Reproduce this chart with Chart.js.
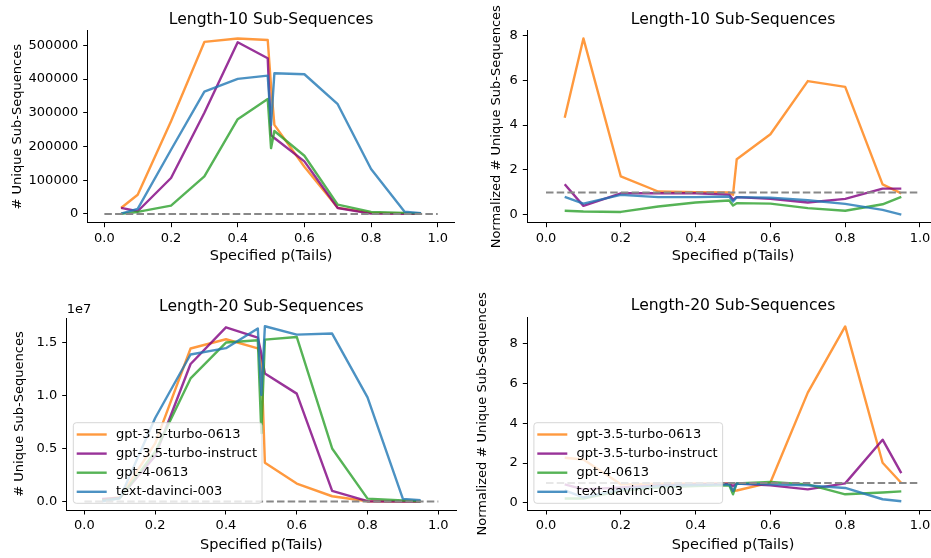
<!DOCTYPE html>
<html>
<head>
<meta charset="utf-8">
<script src="https://cdn.jsdelivr.net/npm/chart.js@4.4.0/dist/chart.umd.min.js"></script>
<style>
  html, body { margin: 0; padding: 0; background: #fff; overflow: hidden; }
  #fig { position: relative; width: 931px; height: 558px; overflow: hidden; }
  canvas { position: absolute; }
</style>
</head>
<body>
<div id="fig">
  <canvas id="c10count" width="465" height="279" style="left:0px;top:0px"></canvas>
  <canvas id="c10norm" width="480" height="279" style="left:465px;top:0px"></canvas>
  <canvas id="c20count" width="465" height="279" style="left:0px;top:279px"></canvas>
  <canvas id="c20norm" width="480" height="279" style="left:465px;top:279px"></canvas>
</div>
<script>
// specified p(Tails) values on the x axis
const pTails = [0.05, 0.1, 0.2, 0.3, 0.4, 0.49, 0.5, 0.51, 0.6, 0.7, 0.8, 0.9, 0.95];
const models = ['gpt-3.5-turbo-0613', 'gpt-3.5-turbo-instruct', 'gpt-4-0613', 'text-davinci-003'];

// length-10, unique counts
const count10Turbo = [17750, 57000, 275000, 510000, 520000, 515700, 380000, 264000, 140000, 18000, 3000, 1000, 500];
const count10Instruct = [17750, 7900, 106500, 300000, 509000, 461500, 234000, 225000, 155800, 17750, 1000, 300, 100];
const count10Gpt4 = [500, 5900, 24700, 111400, 281000, 341000, 195000, 246000, 172600, 27600, 5900, 3000, 1000];
const count10Davinci = [1000, 14800, 190300, 362900, 400400, 410000, 264000, 417000, 414200, 325400, 133100, 6900, 2000];

// length-10, normalized
const norm10Turbo = [4.33, 7.86, 1.71, 1.04, 1.01, 1.0, 0.89, 2.48, 3.59, 5.96, 5.70, 1.36, 0.96];
const norm10Instruct = [1.36, 0.40, 0.96, 0.96, 0.96, 0.90, 0.67, 0.79, 0.71, 0.55, 0.71, 1.17, 1.17];
const norm10Gpt4 = [0.18, 0.15, 0.13, 0.37, 0.55, 0.64, 0.42, 0.52, 0.50, 0.30, 0.18, 0.47, 0.80];
const norm10Davinci = [0.80, 0.50, 0.89, 0.79, 0.79, 0.82, 0.59, 0.79, 0.76, 0.65, 0.49, 0.22, 0.01];

// length-20, unique counts
const count20Turbo = [200000, 400000, 5500000, 14470000, 15340000, 14470000, 13500000, 3670000, 1700000, 500000, 30000, 10000, 5000];
const count20Instruct = [250000, 350000, 4300000, 13000000, 16470000, 15500000, 14000000, 12100000, 10200000, 1000000, 30000, 10000, 5000];
const count20Gpt4 = [100000, 300000, 4700000, 11640000, 15030000, 15250000, 6470000, 15310000, 15560000, 5020000, 280000, 100000, 30000];
const count20Davinci = [30000, 300000, 7900000, 13900000, 14500000, 16360000, 10070000, 16570000, 15780000, 15880000, 9850000, 250000, 130000];

// length-20, normalized
const norm20Turbo = [2.27, 2.18, 0.93, 0.97, 0.98, 0.98, 0.60, 0.62, 1.02, 5.55, 8.88, 2.02, 1.00];
const norm20Instruct = [0.93, 0.68, 0.77, 0.88, 0.93, 0.97, 0.85, 0.97, 0.88, 0.68, 0.98, 3.18, 1.50];
const norm20Gpt4 = [0.22, 0.22, 0.60, 0.77, 0.85, 0.88, 0.43, 0.98, 1.05, 0.93, 0.43, 0.52, 0.58];
const norm20Davinci = [0.63, 0.27, 0.68, 0.85, 0.90, 0.93, 0.60, 0.97, 0.93, 0.88, 0.75, 0.18, 0.08];

// tick labels
const xTicks = [0, 0.2, 0.4, 0.6, 0.8, 1.0];
const count10Ticks = [0, 100000, 200000, 300000, 400000, 500000];
const count20Ticks = [0, 5000000, 10000000, 15000000];
const normTicks = [0, 2, 4, 6, 8];

const colors = ['rgba(255,127,14,0.8)', 'rgba(128,0,128,0.8)', 'rgba(44,160,44,0.8)', 'rgba(31,119,180,0.8)'];
const FONT = "'DejaVu Sans', sans-serif";
const XLABEL_SIZE = 14.5;
const YLABEL_SIZE = 13;

Chart.defaults.font.family = FONT;
Chart.defaults.font.size = 13;
Chart.defaults.color = '#000';

function toPoints(arr) {
  return pTails.map((p, i) => ({ x: p, y: arr[i] }));
}

// title, offset text and legend drawn like matplotlib
const extrasPlugin = {
  id: 'extras',
  afterDraw(chart, args, opts) {
    const ctx = chart.ctx;
    const a = chart.chartArea;
    ctx.save();
    ctx.fillStyle = '#000';
    ctx.font = '15.6px ' + FONT;
    ctx.textAlign = 'center';
    ctx.textBaseline = 'alphabetic';
    ctx.fillText(opts.title, (a.left + a.right) / 2, a.top - 7.3);
    if (opts.offsetText) {
      ctx.font = '13px ' + FONT;
      ctx.textAlign = 'left';
      ctx.fillText(opts.offsetText, a.left, a.top - 4.7);
    }
    if (opts.legend) {
      ctx.font = '13px ' + FONT;
      let maxW = 0;
      models.forEach(m => { maxW = Math.max(maxW, ctx.measureText(m).width); });
      const w = 42.7 + maxW + 5;
      const h = 80.6;
      const x0 = a.left + 6.6;
      const y0 = a.bottom - 6.7 - h;
      ctx.beginPath();
      ctx.roundRect(x0, y0, w, h, 3);
      ctx.fillStyle = 'rgba(255,255,255,0.8)';
      ctx.fill();
      ctx.strokeStyle = 'rgba(204,204,204,0.8)';
      ctx.lineWidth = 1;
      ctx.stroke();
      models.forEach((m, i) => {
        const cy = y0 + 11.8 + i * 19.1;
        ctx.beginPath();
        ctx.moveTo(x0 + 3.4, cy);
        ctx.lineTo(x0 + 33.4, cy);
        ctx.strokeStyle = colors[i];
        ctx.lineWidth = 2.4;
        ctx.stroke();
        ctx.fillStyle = '#000';
        ctx.textAlign = 'left';
        ctx.textBaseline = 'middle';
        ctx.fillText(m, x0 + 42.7, cy);
      });
    }
    ctx.restore();
  }
};

function makePanel(p) {
  const canvas = document.getElementById(p.id);
  const W = canvas.width, H = canvas.height;
  const datasets = p.series.map((arr, i) => ({
    data: toPoints(arr),
    borderColor: colors[i],
    borderWidth: 2.4,
    borderJoinStyle: 'round',
    pointRadius: 0,
    tension: 0,
    fill: false,
    order: 4 - i
  }));
  datasets.push({
    data: [{ x: 0, y: p.ref }, { x: 1, y: p.ref }],
    borderColor: '#888888',
    borderWidth: 2,
    borderDash: [7.5, 3.2],
    pointRadius: 0,
    fill: false,
    order: 0
  });
  return new Chart(canvas, {
    type: 'line',
    data: { datasets },
    plugins: [extrasPlugin],
    options: {
      responsive: false,
      animation: false,
      devicePixelRatio: 1,
      layout: { padding: { left: 0, top: p.area[1], right: W - p.area[2], bottom: 0 } },
      plugins: {
        legend: { display: false },
        tooltip: { enabled: false },
        extras: { title: p.title, legend: p.legend, offsetText: p.offsetText }
      },
      scales: {
        x: {
          type: 'linear',
          min: -0.05,
          max: 1.05,
          afterFit(scale) { scale.height = H - p.area[3]; },
          afterBuildTicks(scale) { scale.ticks = xTicks.map(v => ({ value: v })); },
          ticks: { autoSkip: false, maxRotation: 0, padding: 3.5, callback: v => v.toFixed(1) },
          grid: { drawOnChartArea: false, drawTicks: true, tickLength: 4.5, tickColor: '#000', tickWidth: 1 },
          border: { display: true, color: '#000', width: 1 },
          title: { display: true, text: 'Specified p(Tails)', font: { size: XLABEL_SIZE, lineHeight: 1.2 }, padding: { top: 0, bottom: H - p.xLabelY - XLABEL_SIZE * 0.6 } }
        },
        y: {
          type: 'linear',
          min: p.yMin,
          max: p.yMax,
          afterFit(scale) { scale.width = p.area[0]; },
          afterBuildTicks(scale) { scale.ticks = p.yTicks.map(v => ({ value: v })); },
          ticks: { autoSkip: false, padding: 5, callback: p.yFmt },
          grid: { drawOnChartArea: false, drawTicks: true, tickLength: 4.5, tickColor: '#000', tickWidth: 1 },
          border: { display: true, color: '#000', width: 1 },
          title: { display: true, text: p.yLabel, font: { size: YLABEL_SIZE, lineHeight: 1.2 }, padding: { top: p.yLabelX - YLABEL_SIZE * 0.6, bottom: 0 } }
        }
      }
    }
  });
}

makePanel({
  id: 'c10count', area: [87.7, 30.8, 454.4, 222.7],
  yMin: -26000, yMax: 543000, yTicks: count10Ticks, yFmt: v => String(v),
  series: [count10Turbo, count10Instruct, count10Gpt4, count10Davinci], ref: 0,
  title: 'Length-10 Sub-Sequences', yLabel: '# Unique Sub-Sequences',
  yLabelX: 17.5, xLabelY: 256.7, legend: false, offsetText: null
});
makePanel({
  id: 'c10norm', area: [62.3, 30.8, 473.7, 222.7],
  yMin: -0.35, yMax: 8.2, yTicks: normTicks, yFmt: v => String(v),
  series: [norm10Turbo, norm10Instruct, norm10Gpt4, norm10Davinci], ref: 1,
  title: 'Length-10 Sub-Sequences', yLabel: 'Normalized # Unique Sub-Sequences',
  yLabelX: 32, xLabelY: 256.7, legend: false, offsetText: null
});
makePanel({
  id: 'c20count', area: [66.7, 39, 456, 231],
  yMin: -800000, yMax: 17350000, yTicks: count20Ticks, yFmt: v => (v / 1e7).toFixed(1),
  series: [count20Turbo, count20Instruct, count20Gpt4, count20Davinci], ref: 0,
  title: 'Length-20 Sub-Sequences', yLabel: '# Unique Sub-Sequences',
  yLabelX: 20, xLabelY: 266, legend: true, offsetText: '1e7'
});
makePanel({
  id: 'c20norm', area: [62.3, 38.7, 473.7, 231],
  yMin: -0.36, yMax: 9.32, yTicks: normTicks, yFmt: v => String(v),
  series: [norm20Turbo, norm20Instruct, norm20Gpt4, norm20Davinci], ref: 1,
  title: 'Length-20 Sub-Sequences', yLabel: 'Normalized # Unique Sub-Sequences',
  yLabelX: 18, xLabelY: 266, legend: true, offsetText: null
});
</script>
</body>
</html>
